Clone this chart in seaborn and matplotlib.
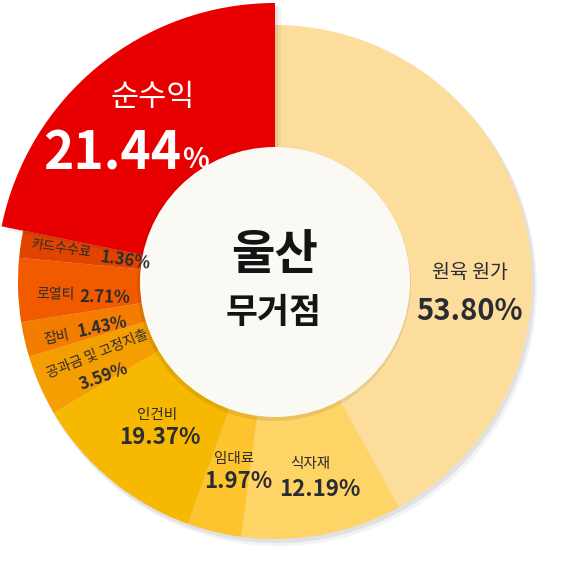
import matplotlib
matplotlib.use('Agg')
import matplotlib.pyplot as plt
import seaborn as sns
from matplotlib.patches import Circle, Wedge

# ---- data ----
categories = ['원육 원가', '식자재', '임대료', '인건비', '공과금 및 고정지출',
              '잡비', '로열티', '카드수수료', '순수익']
pct_labels = [53.80, 12.19, 1.97, 19.37, 3.59, 1.43, 2.71, 1.36, 21.44]
# share of the circle each slice occupies as drawn in the infographic
drawn_share = [42.0, 10.1, 3.4, 11.0, 3.8, 2.2, 4.0, 1.7, 21.8]
center_title = ['울산', '무거점']

colors = ['#FDDD9B', '#FFD466', '#FEC42E', '#F6B800', '#F59E00',
          '#F47D00', '#F25A00', '#E04400', '#E80000']

sns.set_theme(style='white')
plt.rcParams['font.family'] = ['Noto Sans CJK KR', 'DejaVu Sans']

W, H = 569, 575
fig = plt.figure(figsize=(W / 100, H / 100), dpi=100)
ax = fig.add_axes([0, 0, 1, 1])

cx, cy = 275, H - 282
R, r_in = 257, 134
R_big = 279

# soft shadow under the ring
for (dx, dy, a) in [(4, -6, 0.05), (2, -3, 0.08)]:
    ax.add_patch(Wedge((cx + dx, cy + dy), R + 1, 0, 360, width=R - r_in,
                       facecolor='k', alpha=a, lw=0, zorder=0.5))

wedges, _ = ax.pie(drawn_share, colors=colors, startangle=90, counterclock=False,
                   center=(cx, cy), radius=R, frame=True,
                   wedgeprops=dict(width=R - r_in, linewidth=0))
for w in wedges:
    w.set_zorder(1)

# highlighted slice sticks out
red = wedges[-1]
red.set_radius(R_big)
red.set_width(R_big - r_in)
red.set_zorder(1.2)
for (dx, dy, a) in [(6, -4, 0.05), (3, -2, 0.08)]:
    ax.add_patch(Wedge((cx + dx, cy + dy), R_big, red.theta1, red.theta2,
                       width=R_big - r_in, facecolor='k', alpha=a, lw=0, zorder=1.1))

# centre disc
ax.add_patch(Circle((cx - 1, cy - 2), r_in + 3, facecolor='k', alpha=0.09, lw=0, zorder=2.5))
ax.add_patch(Circle((cx, cy), r_in + 1, facecolor='#FAF9F4', lw=0, zorder=3))

ax.set_xlim(0, W)
ax.set_ylim(0, H)
ax.set_aspect('equal')
ax.axis('off')

dark = '#2B2B33'


def t(px, py, s, size, weight='normal', color=dark, rot=0, ha='center', va='center'):
    ax.text(px, H - py, s, fontsize=size, fontweight=weight, color=color,
            rotation=rot, ha=ha, va=va, zorder=5, rotation_mode='anchor')


def fmt(v):
    return f'{v:.2f}%'

# centre title
t(275, 255, center_title[0], 34, 'black', '#141414')
t(274, 312, center_title[1], 25, 'black', '#141414')

# 원육 원가
t(470, 272, categories[0], 14)
t(470, 311, fmt(pct_labels[0]), 21, 'black')
# 식자재
t(310, 464, categories[1], 10.5)
t(320, 490, fmt(pct_labels[1]), 16, 'black')
# 임대료
t(234, 459, categories[2], 10.5)
t(238, 482, fmt(pct_labels[2]), 16, 'black')
# 인건비
t(157, 415, categories[3], 10.5)
t(160, 438, fmt(pct_labels[3]), 16, 'black')
# 공과금 및 고정지출
t(97, 354, categories[4], 10, rot=22)
t(104, 377, fmt(pct_labels[4]), 12, 'black', rot=20)
# 잡비
t(57, 337, categories[5], 10, rot=12)
t(102, 327, fmt(pct_labels[5]), 12, 'black', rot=12)
# 로열티
t(55, 294, categories[6], 10, rot=-1)
t(105, 297, fmt(pct_labels[6]), 12, 'black', rot=-1)
# 카드수수료
t(61, 249, categories[7], 9.5, rot=-8)
t(125, 261, fmt(pct_labels[7]), 12, 'black', rot=-8)
# 순수익
t(153, 97, categories[8], 22, 'medium', 'white')
num = f'{pct_labels[8]:.2f}'
ax.text(181, H - 170, num, fontsize=37, fontweight='black', color='white',
        ha='right', va='baseline', zorder=5)
ax.text(182, H - 168, '%', fontsize=20, fontweight='black', color='white',
        ha='left', va='baseline', zorder=5)

fig.savefig('out.png', dpi=100)
